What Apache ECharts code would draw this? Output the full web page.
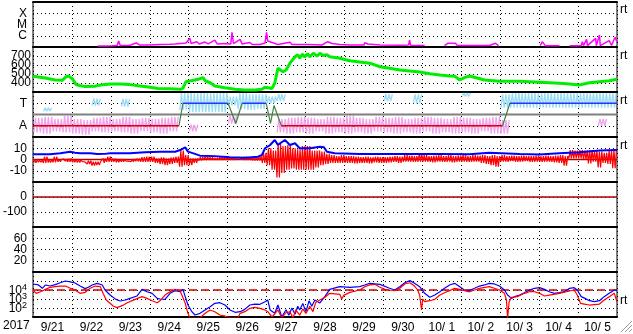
<!DOCTYPE html>
<html><head><meta charset="utf-8">
<script src="https://cdn.jsdelivr.net/npm/echarts/dist/echarts.min.js"></script>
<style>html,body{margin:0;padding:0;background:#fff}#c{width:633px;height:334px}</style>
</head><body><div id="c"></div><script>
// ---- data (time in days since 2017-09-21 00:00) ----
const yearLabel = '2017';
const dateLabels = ['9/21','9/22','9/23','9/24','9/25','9/26','9/27','9/28','9/29','9/30','10/ 1','10/ 2','10/ 3','10/ 4','10/ 5'];
const xrayLabels = {'-6':'C','-5':'M','-4':'X'};
const speedLabels = [400,500,600,700];
const stateLabels = {'1':'A','3':'T'};
const imfLabels = [-10,0,10];
const dstLabels = [-100,0];
const kpLabels = [20,40,60];
const electronLabels = [2,3,4];

// X-ray flux, log10(W/m2); null = gap
const xrayLog = [[1.67,-6.91],[1.85,-6.91],[2.03,-6.89],[2.16,-6.87],[2.2,-6.47],[2.24,-6.87],[2.49,-6.85],[2.65,-6.64],[2.73,-6.82],[3.0,-6.82],[3.26,-6.78],[3.52,-6.76],[3.65,-6.73],[3.93,-6.64],[4.03,-6.23],[4.06,-6.69],[4.21,-6.53],[4.27,-6.73],[4.42,-6.56],[4.5,-6.73],[4.67,-6.38],[4.73,-6.73],[4.93,-6.69],[5.08,-6.73],[5.11,-5.69],[5.15,-6.69],[5.32,-6.32],[5.37,-6.73],[5.57,-6.6],[5.63,-6.78],[5.83,-6.78],[5.96,-6.64],[6.0,-5.69],[6.03,-6.47],[6.14,-6.6],[6.29,-6.78],[6.6,-6.58],[6.65,-6.78],[7.11,-6.78],[7.42,-6.82],[7.57,-6.53],[7.68,-6.69],[7.88,-6.78],[8.14,-6.82],[8.5,-6.82],[8.52,-6.62],[8.6,-6.73],[8.91,-6.82],[9.42,-6.84],[9.65,-6.82],[9.67,-6.38],[9.7,-6.85],[10.06,-6.87],[10.14,null],[10.57,-6.87],[10.65,-6.67],[10.85,-6.67],[10.9,-6.87],[11.21,-6.87],[11.72,-6.87],[11.88,-6.67],[11.96,-6.87],[12.06,null],[13.03,-6.88],[13.08,-6.53],[13.16,-6.88],[13.52,-6.88],[13.65,null],[13.78,-6.88],[14.08,-6.88],[14.11,-6.53],[14.14,-6.88],[14.22,-6.32],[14.24,-6.88],[14.29,-6.88],[14.45,-6.23],[14.47,-6.88],[14.55,-5.93],[14.57,-6.88],[14.8,-6.44],[14.86,-6.87],[14.95,-6.14],[15,-6.56]];

// Solar wind speed, km/s
const windSpeed = [[0,475],[0.32,455],[0.57,433],[0.75,430],[0.85,470],[0.91,478],[1.01,448],[1.11,380],[1.34,360],[1.6,365],[1.73,378],[1.98,390],[2.24,388],[2.49,382],[2.75,367],[3.01,352],[3.21,340],[3.52,335],[3.78,330],[3.85,340],[3.93,415],[4.16,433],[4.29,448],[4.37,460],[4.42,425],[4.55,403],[4.67,367],[4.93,348],[5.19,330],[5.44,322],[5.7,322],[5.88,330],[5.96,352],[6.14,340],[6.21,400],[6.29,563],[6.42,525],[6.5,545],[6.6,620],[6.73,692],[6.8,715],[6.85,675],[6.92,720],[6.98,690],[7.05,725],[7.11,692],[7.2,730],[7.3,700],[7.37,730],[7.45,705],[7.55,715],[7.62,692],[7.88,675],[8.14,648],[8.39,633],[8.65,620],[8.91,581],[9.16,563],[9.42,545],[9.68,533],[9.93,522],[10.19,503],[10.45,489],[10.7,478],[10.83,476],[10.96,433],[11.08,459],[11.21,478],[11.6,433],[11.98,419],[12.5,419],[13.01,408],[13.52,396],[13.78,389],[14.03,378],[14.29,403],[14.55,415],[14.8,426],[15,441]];

// Magnetopause / sector state: 1 = A, 3 = T
const stateAway = [[[0,1],[3.75,1]],[[6.38,1],[12.06,1]]];
const stateToward = [[[3.85,3],[5.01,3]],[[5.37,3],[5.99,3]],[[12.25,3],[15,3]]];
const stateTransit = [[[3.75,1],[3.85,3]],[[5.01,3],[5.21,1.2],[5.37,3]],[[5.99,3],[6.1,1.2],[6.19,2.8],[6.38,1]],[[12.06,1],[12.25,3]]];
// scattered angle points, per 6 h bin [low, high] (null = none)
const pinkLo = [0.4,0.3,0.5,0.4,0.3,0.2,0.5,0.4,0.5,0.4,0.3,0.5,0.4,0.3,0.5,null,0.5,null,null,null,1.2,null,null,null,null,0.4,0.3,0.4,0.3,0.5,0.3,0.4,0.3,0.4,0.3,0.5,0.4,0.3,0.4,0.3,0.5,0.3,0.4,0.3,0.4,0.3,0.5,0.3,0.3,null,null,null,null,null,null,null,null,null,1.0,null];
const pinkHi = [1.7,1.8,1.6,1.9,1.6,1.5,1.7,1.8,1.6,1.8,1.6,1.7,1.6,1.7,1.8,null,1.1,null,null,null,1.9,null,null,null,null,1.6,1.7,1.8,1.7,1.6,1.8,1.7,1.9,1.7,1.6,1.8,1.7,1.8,1.6,1.7,1.8,1.7,1.6,1.8,1.7,1.6,1.7,1.8,1.5,null,null,null,null,null,null,null,null,null,1.6,null];
const cyanLo = [null,2.3,null,null,null,null,2.8,null,null,2.7,null,null,null,null,null,2.4,2.2,2.2,2.2,2.2,2.8,2.5,2.4,2.5,3.0,3.2,null,null,null,null,null,null,null,null,null,null,3.2,null,null,3.0,null,null,null,null,3.6,null,null,null,2.6,2.6,2.6,2.6,2.6,2.6,2.6,2.6,2.6,2.6,2.6,2.6];
const cyanHi = [null,2.6,null,null,null,null,3.4,null,null,3.4,null,null,null,null,null,3.9,3.9,3.9,3.9,3.9,3.6,3.9,3.8,3.8,3.6,3.8,null,null,null,null,null,null,null,null,null,null,3.8,null,null,3.8,null,null,null,null,3.9,null,null,null,3.8,3.9,3.9,3.9,3.9,3.9,3.9,3.9,3.9,3.9,3.9,3.9];

// IMF Bt, nT
const imfBt = [[0,4.6],[0.44,4.6],[0.7,5.5],[0.96,6.9],[1.08,6],[1.21,5.5],[1.47,5.5],[1.65,4.9],[1.85,5],[1.98,5.5],[2.49,5.5],[2.88,6.4],[3.26,6.9],[3.65,6.9],[3.78,8.4],[3.91,10.8],[3.98,7],[4.16,5],[4.29,3.4],[4.67,3],[5.06,2],[5.44,1.5],[5.78,2.5],[5.88,4],[5.96,10],[6.09,12.9],[6.21,17.3],[6.29,13],[6.34,14.4],[6.47,17.3],[6.6,12.9],[6.73,14.4],[6.85,10],[7.11,10],[7.37,11.4],[7.47,11],[7.55,6.9],[7.75,5.5],[8.39,4.9],[9.42,4.9],[10.45,4.9],[11.21,4.6],[11.72,6],[12.5,4.8],[13.01,4.5],[13.52,5.5],[14.03,6.5],[14.55,8],[15,8.5]];
// IMF Bz range per 3 h bin, nT
const bzLo = [-3,-2.5,-3,-2.8,-2.5,-2,-1.5,-2, -2.5,-2.8,-2,-4,-5.5,-5,-3,-2, -2,-2.5,-2,-1.5,-2,-1.5,-2,-2, -2,-3,-4,-5,-4,-3,-6.4,-5, -5,-3,-1,-0.5,-0.5,-0.5,-0.5,-0.5, -0.5,-0.5,0,-0.5,-0.5,-1,-1,-3, -5,-9,-16,-12,-9,-8,-9,-9, -9,-9,-7,-5,-4,-3,-3,-3, -3,-3,-3.4,-3,-3,-3.4,-2.5,-3, -3,-2.5,-2,-3,-2,-2,-2,-2, -2,-2,-2.5,-2,-2,-2,-2.5,-2, -2,-2,-2,-2,-3,-4,-5,-6.4, -2,-2,-1.5,-2,-2,-1.5,-2,-2, -2,-2,-2,-2.5,-3,-5.5,1,1, 1,0,-3.4,-2,-7,-3,-4,-7.8];
const bzHi = [0,-0.5,2.5,0,2.5,0,0.5,1, 0,0,-0.5,-1,-2,-2,1,2.5, 1,0.5,0.5,0,0.5,1,2,2.5, 2.5,1,2,1,2,2.5,8,4, 1,1,2,2.5,2,1.5,2,2, 2,1.5,2,2.5,2,2,3,6, 10,8,14,12,13,10,9,12, 12,8,8,7,5,4,3,4, 3,3,2.5,2,2.5,2,2.5,2, 2,2.5,3,2.5,4,3.5,3,5.5, 4,3,3.5,4,3,4,3,3.5, 4,3,4,3.5,4,3,4,3, 4,3,3.5,3,3.4,3,3,3.4, 3,3.4,3,3.5,4,3,8.4,8, 8.4,8,8.4,8,7,6,8,8.4];

// >2 MeV electron flux, log10(pfu)
const electronA = [[0,4.67],[0.14,4.56],[0.24,4.19],[0.32,4.56],[0.44,4.44],[0.57,4.6],[0.7,4.81],[0.83,5.0],[0.96,4.9],[1.08,4.78],[1.21,4.44],[1.34,4.15],[1.42,4.3],[1.52,4.56],[1.65,4.74],[1.78,4.56],[1.85,4.0],[1.98,3.44],[2.13,2.96],[2.24,2.78],[2.37,2.89],[2.49,3.07],[2.67,3.33],[2.8,4.07],[2.93,3.81],[3.06,3.63],[3.19,3.07],[3.26,3.0],[3.39,2.96],[3.52,3.63],[3.65,3.93],[3.78,3.81],[3.85,4.07],[3.91,3.26],[3.98,2.33],[4.08,1.59],[4.16,1.22],[4.29,1.41],[4.42,1.78],[4.55,2.15],[4.67,2.52],[4.8,2.59],[4.93,2.33],[5.06,1.78],[5.19,1.52],[5.32,1.59],[5.44,1.85],[5.57,2.33],[5.7,2.44],[5.83,2.41],[5.96,2.7],[6.03,2.89],[6.09,1.78],[6.21,1.41],[6.29,2.33],[6.39,1.0],[6.5,1.8],[6.57,1.2],[6.65,2.0],[6.73,1.3],[6.8,2.2],[6.85,1.78],[6.93,2.5],[7.01,1.6],[7.09,2.8],[7.16,2.2],[7.24,2.89],[7.37,2.56],[7.5,3.3],[7.62,4.07],[7.88,4.37],[8.14,4.3],[8.39,4.37],[8.52,4.56],[8.65,4.74],[8.91,4.63],[9.16,4.19],[9.29,4.0],[9.42,4.37],[9.55,4.81],[9.68,5.04],[9.8,4.74],[9.93,4.37],[10.06,3.63],[10.19,3.19],[10.32,3.44],[10.45,3.81],[10.57,4.19],[10.7,4.56],[10.83,4.74],[10.96,4.37],[11.08,4.0],[11.21,3.95],[11.34,4.19],[11.47,4.44],[11.6,4.56],[11.72,4.74],[11.85,4.67],[11.98,4.44],[12.11,4.0],[12.19,3.44],[12.29,3.07],[12.37,3.26],[12.5,3.44],[12.62,3.7],[12.75,4.0],[12.88,4.19],[13.01,4.26],[13.14,4.07],[13.26,3.81],[13.39,3.63],[13.52,3.7],[13.65,3.81],[13.78,4.19],[13.9,4.26],[13.98,4.0],[14.08,3.26],[14.18,3.07],[14.29,2.81],[14.42,2.7],[14.55,2.81],[14.67,3.26],[14.8,3.63],[14.93,4.0],[15,3.93]];
const electronB = [[0,4.0],[0.08,3.63],[0.19,3.81],[0.32,4.07],[0.44,4.3],[0.57,4.37],[0.7,4.44],[0.83,4.44],[0.96,4.19],[1.08,4.0],[1.21,3.63],[1.34,3.74],[1.47,4.19],[1.6,4.44],[1.73,4.37],[1.8,3.63],[1.88,2.89],[1.98,2.52],[2.06,2.22],[2.16,2.04],[2.29,2.26],[2.42,2.59],[2.62,2.96],[2.8,3.26],[2.93,3.07],[3.06,2.81],[3.19,2.59],[3.26,2.8],[3.39,3.44],[3.52,3.81],[3.65,4.07],[3.78,3.89],[3.83,3.81],[3.91,2.52],[3.98,1.41],[4.03,0.9],[4.29,0.9],[4.42,1.41],[4.55,1.78],[4.67,1.59],[4.8,1.22],[4.93,1.1],[5.06,0.9],[5.26,0.9],[5.32,1.41],[5.44,1.59],[5.57,1.96],[5.7,2.07],[5.83,1.96],[5.96,1.78],[6.03,1.59],[6.14,1.0],[6.29,1.78],[6.39,0.9],[6.5,1.5],[6.6,1.56],[6.68,0.9],[6.75,1.8],[6.85,1.2],[6.93,1.9],[7.01,1.4],[7.11,2.2],[7.19,1.6],[7.26,2.6],[7.37,2.89],[7.5,3.2],[7.62,3.63],[7.88,3.52],[7.93,3.0],[7.98,3.4],[8.14,3.74],[8.39,4.0],[8.52,4.37],[8.65,4.56],[8.78,4.63],[8.91,4.3],[9.04,4.07],[9.16,4.0],[9.29,3.93],[9.42,4.19],[9.55,4.67],[9.68,4.81],[9.8,4.44],[9.88,4.0],[9.93,3.44],[9.98,1.78],[10.01,3.0],[10.06,2.7],[10.19,2.81],[10.32,2.96],[10.45,3.44],[10.57,3.7],[10.7,3.93],[10.83,4.19],[10.96,4.07],[11.08,3.93],[11.21,3.8],[11.47,4.19],[11.6,4.3],[11.72,4.37],[11.85,4.19],[11.98,4.0],[12.11,3.63],[12.16,2.89],[12.19,0.9],[12.23,2.7],[12.29,3.19],[12.44,3.26],[12.62,3.63],[12.75,3.81],[12.88,3.81],[13.01,3.63],[13.14,3.33],[13.26,3.44],[13.52,3.63],[13.78,3.89],[13.9,4.0],[13.98,3.44],[14.03,2.89],[14.06,2.52],[14.16,2.44],[14.29,2.33],[14.55,2.44],[14.67,2.89],[14.8,3.26],[14.93,3.63],[15,2.7]];
const electronAlert = 4;

// ---- chart ----
const FONT = 'Liberation Sans, Arial, sans-serif';
const tops = [2,47,92,137,182,227,272];
const yDefs = [
  {min:-7,max:-3,interval:1,fmt:v=>xrayLabels[String(v)]||'',margin:6},
  {min:300,max:800,interval:100,fmt:v=>speedLabels.includes(v)?String(v):'',margin:2},
  {min:0,max:4,interval:1,fmt:v=>stateLabels[String(v)]||'',margin:6},
  {min:-20,max:20,interval:10,fmt:v=>imfLabels.includes(v)?String(v):'',margin:6},
  {min:-200,max:100,interval:100,fmt:v=>dstLabels.includes(v)?String(v):'',margin:6},
  {min:0,max:80,interval:20,fmt:v=>kpLabels.includes(v)?String(v):'',margin:6},
  {min:1,max:6,interval:1,fmt:v=>electronLabels.includes(v)?'{b|10}{s|'+v+'}':'',margin:6}
];
const dotted = {color:'#000',width:1,type:[1,3]};
const grids = tops.map(t=>({left:33,right:16,top:t,height:45,show:true,borderColor:'#000',borderWidth:1,backgroundColor:'#fff'}));
const xAxes = tops.map((t,i)=>({type:'value',gridIndex:i,min:0,max:15,interval:1,
  axisLabel:{show:false},axisTick:{show:false},
  axisLine:{show:true,onZero:false,lineStyle:{color:'#000',width:2}},
  splitLine:{show:true,lineStyle:dotted}}));
xAxes.push({type:'value',gridIndex:0,position:'top',min:0,max:15,axisLabel:{show:false},axisTick:{show:false},splitLine:{show:false},axisLine:{show:true,lineStyle:{color:'#000',width:2}}});
xAxes.push({type:'category',gridIndex:6,position:'bottom',data:dateLabels,boundaryGap:true,
  axisLine:{show:false},axisTick:{show:false},splitLine:{show:false},
  axisLabel:{color:'#000',fontSize:12,fontFamily:FONT,margin:5,interval:0}});
const yAxes = yDefs.map((d,i)=>({type:'value',gridIndex:i,min:d.min,max:d.max,interval:d.interval,
  axisLine:{show:false},axisTick:{show:false},
  splitLine:{show:true,lineStyle:dotted},
  axisLabel:{color:'#000',fontSize:12,fontFamily:FONT,margin:d.margin,formatter:d.fmt,
    rich:{b:{fontSize:12,fontFamily:FONT,color:'#000',verticalAlign:'bottom',lineHeight:14},
          s:{fontSize:9,fontFamily:FONT,color:'#000',verticalAlign:'top',lineHeight:14}}}}));

function lineS(ix,data,color,w,extra){return Object.assign({type:'line',xAxisIndex:ix,yAxisIndex:ix,data:data,showSymbol:false,symbol:'none',connectNulls:false,animation:false,silent:true,lineStyle:{color:color,width:w},clip:true},extra||{});}
function gapData(arr){return arr.map(p=>[p[0],p[1]===null?'-':p[1]]);}
// draws each bin's [low, high] spread as a dense up-down trace, with breaks at empty bins
function spread(lo,hi,binDays,zigs){
  const out=[];
  lo.forEach((l,k)=>{
    if(l===null||hi[k]===null){out.push([k*binDays,'-']);return;}
    for(let j=0;j<zigs;j++){
      out.push([k*binDays+binDays*(2*j+0.5)/(2*zigs),l]);
      out.push([k*binDays+binDays*(2*j+1.5)/(2*zigs),hi[k]]);
    }
  });
  return out;
}

const series = [];
series.push(lineS(0,gapData(xrayLog),'#ff00ff',1.5));
series.push(lineS(1,windSpeed,'#00ee00',3));
series.push(lineS(2,spread(pinkLo,pinkHi,0.25,3),'#f0a2ec',1.3));
series.push(lineS(2,spread(cyanLo,cyanHi,0.25,3),'#98dcf6',1.3));
series.push(lineS(2,[[0,2],[15,2]],'#808080',2));
stateAway.forEach(seg=>series.push(lineS(2,seg,'#e00000',1.5)));
stateToward.forEach(seg=>series.push(lineS(2,seg,'#3030ff',1.5)));
stateTransit.forEach(seg=>series.push(lineS(2,seg,'#408040',1.2)));
series.push(lineS(3,[[0,0],[15,0]],'#b00000',1.5));
series.push(lineS(3,spread(bzLo,bzHi,0.125,2),'#ff0000',1.2));
series.push(lineS(3,imfBt,'#0000ff',2));
series.push(lineS(4,[[0,0],[15,0]],'#b00000',1.5));
series.push(lineS(5,[],'#000',1));
series.push(lineS(6,[[0,electronAlert],[15,electronAlert]],'#d00000',1.5,{lineStyle:{color:'#d00000',width:1.5,type:[8,4]}}));
series.push(lineS(6,electronA,'#0000ff',1.2));
series.push(lineS(6,electronB,'#ff0000',1.2));

const rtTops = [4,50,95,140,295];
const grip = [0,4,8].map(o=>({type:'line',shape:{x1:632,y1:321+o,x2:621+o,y2:332},style:{stroke:'#999',lineWidth:1}}));
const graphic = [{type:'text',left:3,top:320,style:{text:yearLabel,font:'12px '+FONT,fill:'#000'}}]
  .concat(rtTops.map(t=>({type:'text',left:620,top:t,style:{text:'rt',font:'12px '+FONT,fill:'#000'}})))
  .concat(grip);

const chart = echarts.init(document.getElementById('c'),null,{renderer:'canvas'});
chart.setOption({animation:false,backgroundColor:'#fff',grid:grids,xAxis:xAxes,yAxis:yAxes,series:series,graphic:graphic});
</script></body></html>
